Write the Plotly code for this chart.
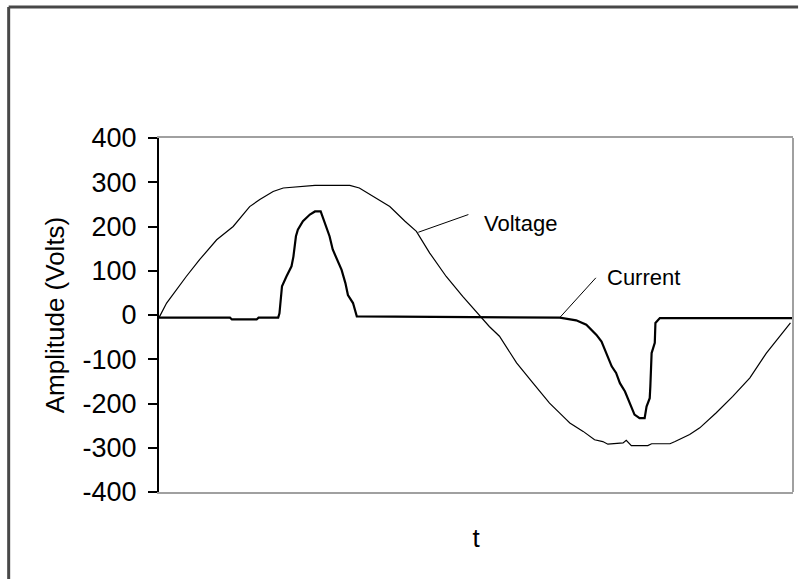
import plotly.graph_objects as go

# Voltage trace (t is normalized time 0..100)
voltage_t = [0, 1.2, 4.3, 6.4, 9.1, 11.7, 14.3, 15.9, 18.0, 19.6, 24.6, 30.1, 31.6, 34.3, 36.4,
             38.8, 40.6, 42.7, 45.3, 47.9, 50.6, 52.1, 53.7, 56.4, 59.0, 61.6, 64.3, 64.8, 66.9,
             68.7, 70.0, 70.8, 73.2, 73.7, 74.5, 77.1, 77.7, 80.6, 81.4, 83.7, 85.3, 87.9, 90.5,
             93.2, 95.8, 98.4, 99.6]
voltage_v = [-6, 27, 87, 125, 170, 200, 245, 261, 279, 287, 293, 293, 287, 264, 245,
             212, 189, 140, 87, 42, -3, -26, -48, -108, -154, -199, -237, -244, -263,
             -282, -286, -292, -289, -283, -295, -295, -291, -291, -286, -270, -255, -221, -184,
             -142, -86, -41, -18]

# Current trace
current_t = [0, 11.2, 11.5, 15.4, 15.7, 18.8, 19.0, 19.4, 20.1, 20.9, 21.2, 21.6, 21.9, 22.7,
             23.8, 24.6, 25.5, 26.1, 26.9, 27.4, 28.2, 28.8, 29.4, 29.8, 30.6, 31.2, 63.2,
             65.8, 67.4, 69.0, 69.8, 70.6, 71.4, 72.1, 72.7, 73.5, 74.2, 75.0, 75.8, 76.6,
             76.9, 77.4, 77.5, 77.7, 78.2, 78.3, 79.0, 100]
current_v = [-6, -6, -10, -10, -6, -6, 4, 65, 87, 110, 132, 178, 193, 212,
             227, 234, 234, 208, 178, 148, 121, 102, 72, 45, 27, -3, -6,
             -12, -22, -45, -60, -86, -116, -131, -154, -173, -199, -225, -233, -233,
             -207, -188, -161, -86, -63, -18, -7, -7]

y_ticks = [-400, -300, -200, -100, 0, 100, 200, 300, 400]
y_tick_text = ["-400", "-300", "-200", "-100", "0", "100", "200", "300", "400"]

FONT = "Liberation Sans, Arial, sans-serif"

fig = go.Figure()
fig.add_trace(go.Scatter(x=voltage_t, y=voltage_v, mode="lines", name="Voltage",
                         line=dict(color="black", width=1.2)))
fig.add_trace(go.Scatter(x=current_t, y=current_v, mode="lines", name="Current",
                         line=dict(color="black", width=2.2)))

# leader lines
fig.add_shape(type="line", xref="x", yref="y", x0=40.9, y0=187, x1=48.8, y1=227,
              line=dict(color="black", width=1))
fig.add_shape(type="line", xref="x", yref="y", x0=63.2, y0=-6, x1=68.9, y1=84,
              line=dict(color="black", width=1))
# right border of plot area
fig.add_shape(type="line", xref="paper", yref="paper", x0=1, y0=0, x1=1, y1=1,
              line=dict(color="#a0a0a0", width=2))
# outer chart frame (left and top edges visible)
fig.add_shape(type="line", xref="paper", yref="paper", x0=-0.2371, x1=-0.2371, y0=-0.25, y1=1.370,
              line=dict(color="#484848", width=3))
fig.add_shape(type="line", xref="paper", yref="paper", x0=-0.2371, x1=1.008, y0=1.370, y1=1.370,
              line=dict(color="#484848", width=3))

fig.add_annotation(x=51.0, y=206, xref="x", yref="y", text="Voltage", showarrow=False,
                   xanchor="left", yanchor="middle", font=dict(family=FONT, size=22, color="black"))
fig.add_annotation(x=70.4, y=85, xref="x", yref="y", text="Current", showarrow=False,
                   xanchor="left", yanchor="middle", font=dict(family=FONT, size=22, color="black"))

fig.update_layout(
    width=800, height=579,
    margin=dict(l=159, r=7, t=138, b=87),
    paper_bgcolor="white", plot_bgcolor="white",
    showlegend=False,
    font=dict(family=FONT, size=26, color="black"),
    xaxis=dict(range=[0, 100], showgrid=False, zeroline=False, showticklabels=False,
               ticks="", showline=True, linecolor="#a0a0a0", linewidth=2, mirror=True,
               title=dict(text="t", standoff=36, font=dict(family=FONT, size=26))),
    yaxis=dict(range=[-400, 400], tickvals=y_ticks, ticktext=y_tick_text,
               showgrid=False, zeroline=False,
               ticks="outside", ticklen=9, tickwidth=1.5, tickcolor="black",
               ticklabelstandoff=6,
               showline=True, linecolor="black", linewidth=2,
               tickfont=dict(family=FONT, size=27),
               title=dict(text="Amplitude (Volts)", standoff=10, font=dict(family=FONT, size=26))),
)

fig.write_html("out.html")
